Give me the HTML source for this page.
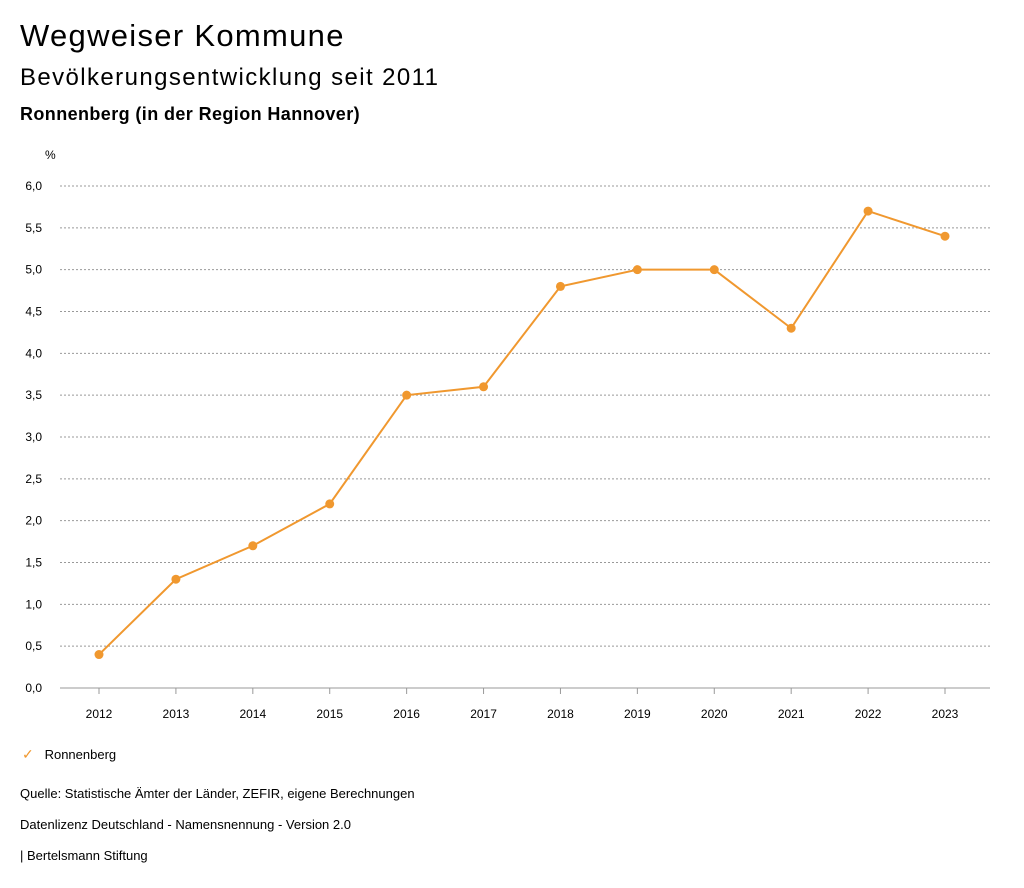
<!DOCTYPE html>
<html><head><meta charset="utf-8"><style>
body{margin:0;width:1024px;height:888px;background:#fff;font-family:"Liberation Sans",sans-serif;color:#000;position:relative;overflow:hidden}
.t{position:absolute;white-space:nowrap}
</style></head><body>
<div class="t" style="left:20px;top:18px;font-size:31px;letter-spacing:1.3px">Wegweiser Kommune</div>
<div class="t" style="left:20px;top:64px;font-size:24px;letter-spacing:1.4px">Bevölkerungsentwicklung seit 2011</div>
<div class="t" style="left:20px;top:104px;font-size:18px;font-weight:bold;letter-spacing:0.4px">Ronnenberg (in der Region Hannover)</div>
<svg id="chart" width="1024" height="740" style="position:absolute;left:0;top:0"></svg>
<div class="t" style="left:22px;top:746px;font-size:13px"><span style="color:#f0982f;font-size:14px">✓</span>&nbsp;&nbsp;&nbsp;Ronnenberg</div>
<div class="t" style="left:20px;top:786px;font-size:13px">Quelle: Statistische Ämter der Länder, ZEFIR, eigene Berechnungen</div>
<div class="t" style="left:20px;top:817px;font-size:13px">Datenlizenz Deutschland - Namensnennung - Version 2.0</div>
<div class="t" style="left:20px;top:848px;font-size:13px">| Bertelsmann Stiftung</div>
<script>
const years=["2012","2013","2014","2015","2016","2017","2018","2019","2020","2021","2022","2023"];
const values=[0.4,1.3,1.7,2.2,3.5,3.6,4.8,5.0,5.0,4.3,5.7,5.4];
const yTicks=[0,0.5,1,1.5,2,2.5,3,3.5,4,4.5,5,5.5,6];
const svg=document.getElementById('chart');
const NS='http://www.w3.org/2000/svg';
const y=v=>688-v*(502/6);
const x=i=>99+i*(846/11);
function mk(t,a){const e=document.createElementNS(NS,t);for(const k in a)e.setAttribute(k,a[k]);svg.appendChild(e);return e;}
const u=mk('text',{x:45,y:159,'font-size':12});u.textContent='%';


yTicks.forEach(v=>{
 const g=mk('line',{x1:60,x2:990,y1:y(v),y2:y(v),stroke:'#999','stroke-dasharray':v===0?'':'2,2','stroke-width':1});
 
 
 const t=mk('text',{x:42,y:y(v)+4,'font-size':12,'text-anchor':'end'});
 t.textContent=v.toFixed(1).replace('.',',');
 
 
});
years.forEach((yr,i)=>{
 const tk=mk('line',{x1:x(i),x2:x(i),y1:688,y2:694,stroke:'#999'});
 
 
 const t=mk('text',{x:x(i),y:718,'font-size':12,'text-anchor':'middle'});
 t.textContent=yr;
 
 
});
const p=mk('polyline',{points:values.map((v,i)=>x(i)+','+y(v)).join(' '),fill:'none',stroke:'#f0982f','stroke-width':2});


values.forEach((v,i)=>{
 const c=mk('circle',{cx:x(i),cy:y(v),r:4.5,fill:'#f0982f'});
 
 
});
</script>
</body></html>
